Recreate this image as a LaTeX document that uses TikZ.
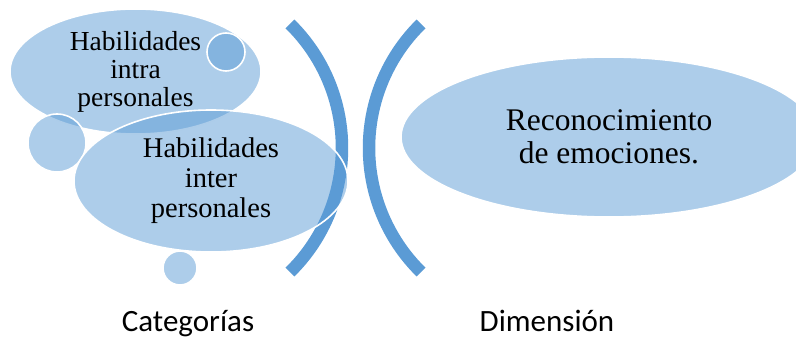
\documentclass[tikz,border=0pt]{standalone}
\usepackage{fontspec}
\setmainfont{Liberation Serif}
\newfontfamily\labelfont{Carlito}
\usetikzlibrary{shapes.geometric}
\definecolor{accblue}{HTML}{5B9BD5}
\tikzset{
  bubble/.style={ellipse, fill=accblue, fill opacity=0.5, text opacity=1,
    draw=white, line width=1.6pt, inner sep=0pt, align=center},
  dot/.style={circle, fill=accblue, fill opacity=0.5,
    draw=white, line width=1.6pt, inner sep=0pt},
  bracket/.style={draw=accblue, line width=12.5pt, line cap=butt},
  lbl/.style={font=\labelfont\fontsize{31}{33}\selectfont, anchor=base}
}
\begin{document}
\begin{tikzpicture}[x=1pt,y=1pt]
    \useasboundingbox (0,0) rectangle (796,-339);
    \clip (0,0) rectangle (796,-339);
    % the two brackets
    \coordinate (cl) at (168,-148);
    \coordinate (cr) at (543,-148);
    \draw[bracket] (cl) ++(45.5:174pt) arc[start angle=45.5, end angle=-45.5, radius=174pt];
    \draw[bracket] (cr) ++(134.5:174pt) arc[start angle=134.5, end angle=225.5, radius=174pt];
    % categorias
    \node[bubble, minimum width=251pt, minimum height=125pt,
      font=\fontsize{27.5}{28}\selectfont] (intra) at (135.5,-71.5)
      {Habilidades\\intra\\personales};
    \node[dot, minimum size=38pt] (dota) at (226,-52) {};
    \node[dot, minimum size=58pt] (dotb) at (57,-143) {};
    \node[bubble, minimum width=274pt, minimum height=142pt,
      font=\fontsize{28.5}{30}\selectfont] (inter) at (211,-181)
      {Habilidades\\inter\\personales};
    \node[dot, minimum size=34pt] (dotc) at (180,-268) {};
    % dimension
    \node[bubble, minimum width=416pt, minimum height=160pt,
      font=\fontsize{31.5}{33}\selectfont] (recon) at (609,-137)
      {Reconocimiento\\de emociones.};
    \node[lbl] (cat) at (188,-332) {Categorías};
    \node[lbl] (dim) at (547,-332) {Dimensión};
\end{tikzpicture}
\end{document}
